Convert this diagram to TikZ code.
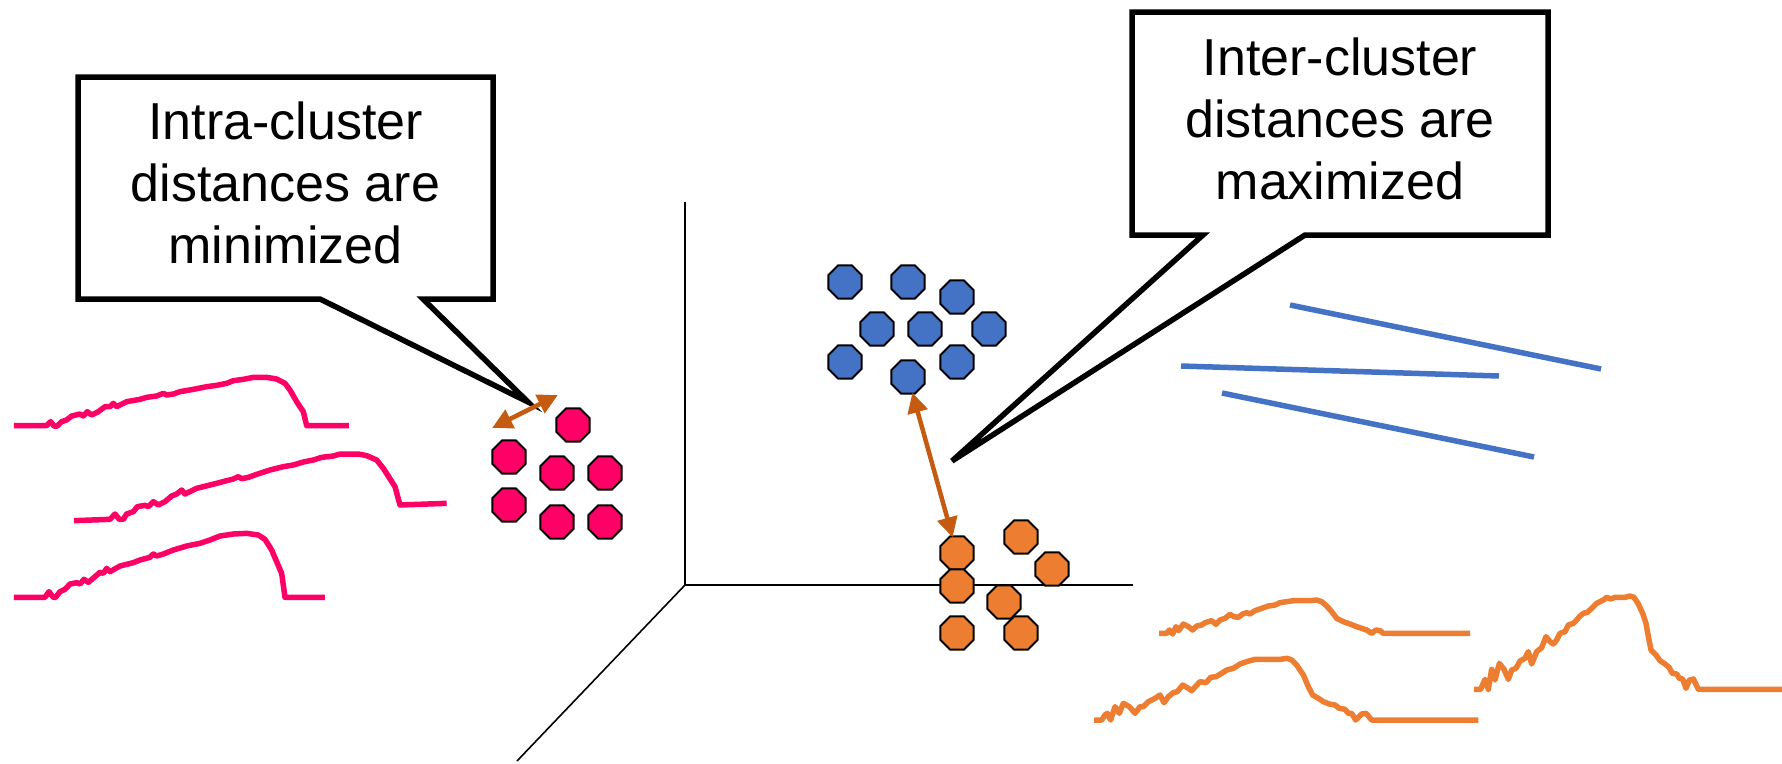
\documentclass[tikz,border=0pt]{standalone}
\usepackage{fontspec}
\setmainfont{Liberation Sans}
\usetikzlibrary{shapes.geometric,arrows.meta}
\definecolor{pinkc}{HTML}{FF0066}
\definecolor{bluec}{HTML}{4472C4}
\definecolor{orangec}{HTML}{ED7D31}
\definecolor{arrowc}{HTML}{C55A11}
\tikzset{
  oct/.style={regular polygon, regular polygon sides=8, minimum size=36pt, inner sep=0pt, draw=black, line width=2pt},
  callout/.style={draw=black, line width=5.5pt, fill=white, line join=miter},
  calltext/.style={align=center, inner sep=0pt, font=\fontsize{52}{62}\selectfont},
  axis/.style={draw=black, line width=1.6pt},
  wave/.style={line width=5.5pt, line join=round, line cap=butt},
  bline/.style={draw=bluec, line width=5.5pt},
  dist/.style={draw=arrowc, line width=4.5pt, {Triangle[length=20pt,width=20pt]}-{Triangle[length=20pt,width=20pt]}, shorten <=-2pt, shorten >=-2pt},
}
\begin{document}
\begin{tikzpicture}[x=1pt,y=-1pt]
\useasboundingbox (0,0) rectangle (1782,763);
% axes
\coordinate (origin) at (685,585);
\coordinate (ytop) at (685,202);
\coordinate (xend) at (1133,585);
\coordinate (zend) at (517,761);
\draw[axis] (ytop) -- (origin) -- (xend);
\draw[axis] (origin) -- (zend);

% callouts
\draw[callout] (78,77) -- (493,77) -- (493,299) -- (423,299) -- (528,402) -- (320,299) -- (78,299) -- cycle;
\node[calltext] (intra) at (285.5,183) {Intra-cluster\\distances are\\minimized};
\draw[callout] (1132,12) -- (1548,12) -- (1548,235) -- (1305,235) -- (952,461) -- (1203,235) -- (1132,235) -- cycle;
\node[calltext] (inter) at (1340,119) {Inter-cluster\\distances are\\maximized};

% pink cluster
\node[oct, fill=pinkc] (p1) at (573,425) {};
\node[oct, fill=pinkc] (p2) at (509,457) {};
\node[oct, fill=pinkc] (p3) at (557,473) {};
\node[oct, fill=pinkc] (p4) at (605,473) {};
\node[oct, fill=pinkc] (p5) at (509,505) {};
\node[oct, fill=pinkc] (p6) at (557,522) {};
\node[oct, fill=pinkc] (p7) at (605,522) {};

% blue cluster
\node[oct, fill=bluec] (b1) at (845,282) {};
\node[oct, fill=bluec] (b2) at (908,282) {};
\node[oct, fill=bluec] (b3) at (957,297) {};
\node[oct, fill=bluec] (b4) at (877,329) {};
\node[oct, fill=bluec] (b5) at (925,329) {};
\node[oct, fill=bluec] (b6) at (989,329) {};
\node[oct, fill=bluec] (b7) at (845,362) {};
\node[oct, fill=bluec] (b8) at (957,362) {};
\node[oct, fill=bluec] (b9) at (908,377) {};

% orange cluster
\node[oct, fill=orangec] (o1) at (957,553) {};
\node[oct, fill=orangec] (o2) at (1021,537) {};
\node[oct, fill=orangec] (o3) at (1052,569) {};
\node[oct, fill=orangec] (o4) at (957,586) {};
\node[oct, fill=orangec] (o5) at (1004,602) {};
\node[oct, fill=orangec] (o6) at (957,633) {};
\node[oct, fill=orangec] (o7) at (1021,633) {};

% distance arrows
\coordinate (ia) at (494,427);
\coordinate (ib) at (556,396);
\draw[dist] (ia) -- (ib);
\draw[dist] (b9) -- (o1);

% blue lines
\draw[bline] (1290,305) -- (1601,369);
\draw[bline] (1181,366) -- (1499,376);
\draw[bline] (1222,393) -- (1534,457);

% pink waves
\begin{scope}[shift={(0,360)}, scale=0.3333333]
\draw[wave, pinkc] plot coordinates {(42,197) (140,197) (152,185) (162,198) (172,198) (185,185) (200,180) (215,168) (240,162) (250,168) (262,155) (275,165) (295,155) (315,140) (330,140) (340,130) (350,140) (380,125) (420,118) (440,112) (470,108) (490,100) (500,105) (520,102) (540,95) (580,88) (620,80) (650,76) (680,70) (700,62) (730,58) (760,52) (800,52) (830,57) (855,70) (870,90) (890,125) (910,155) (920,197) (1047,197)};
\draw[wave, pinkc] plot coordinates {(222,482) (330,478) (345,462) (358,478) (370,478) (380,462) (400,455) (412,440) (435,436) (445,440) (460,425) (475,435) (495,425) (515,408) (530,402) (545,390) (555,402) (590,385) (630,375) (650,370) (680,362) (700,357) (715,350) (725,356) (745,352) (770,343) (810,330) (850,320) (880,315) (910,306) (940,300) (965,292) (1000,288) (1020,282) (1075,282) (1100,287) (1130,300) (1150,325) (1185,380) (1200,435) (1340,430)};
\draw[wave, pinkc] plot coordinates {(42,712) (135,712) (147,695) (160,712) (167,712) (180,695) (195,688) (210,672) (230,668) (240,672) (252,658) (265,667) (285,650) (300,637) (310,640) (320,625) (330,635) (360,618) (400,608) (420,600) (450,592) (460,582) (470,588) (490,582) (520,570) (560,558) (600,550) (630,540) (660,528) (700,522) (740,520) (775,525) (795,538) (815,570) (845,640) (855,712) (975,712)};
\end{scope}

% orange waves
\begin{scope}[shift={(1090,580)}, scale=0.3333333]
\draw[wave, orangec] plot coordinates {(207,160) (230,160) (238,150) (248,162) (258,140) (266,152) (280,132) (295,140) (308,150) (320,138) (335,135) (345,128) (365,122) (378,133) (390,120) (405,115) (420,103) (432,110) (445,112) (458,102) (470,98) (480,102) (495,92) (515,85) (535,78) (555,75) (570,68) (590,65) (610,62) (660,62) (680,60) (695,65) (710,78) (725,95) (740,115) (760,125) (780,132) (800,140) (815,145) (830,150) (845,160) (858,150) (870,152) (880,160) (1140,160)};
\draw[wave, orangec] plot coordinates {(12,420) (35,420) (45,405) (52,400) (62,420) (75,380) (88,400) (100,370) (118,380) (135,400) (150,380) (160,380) (175,365) (195,355) (210,345) (222,368) (235,350) (250,338) (262,335) (278,315) (295,325) (305,332) (318,318) (330,305) (348,308) (362,292) (378,290) (395,280) (410,270) (430,265) (450,252) (470,245) (495,238) (520,238) (570,238) (592,235) (605,240) (620,255) (640,285) (655,320) (668,345) (685,355) (700,365) (718,372) (735,375) (748,385) (765,388) (775,400) (785,400) (797,420) (815,402) (828,400) (845,420) (1165,420)};
\end{scope}
\begin{scope}[shift={(1440,580)}, scale=0.3333333]
\draw[wave, orangec] plot coordinates {(102,328) (122,328) (135,298) (145,328) (155,268) (165,300) (178,250) (192,268) (205,298) (215,270) (228,265) (240,243) (255,235) (265,215) (275,252) (290,215) (305,203) (318,170) (330,185) (340,192) (350,180) (360,160) (375,155) (385,135) (400,130) (410,120) (420,108) (430,100) (442,97) (455,85) (470,70) (490,60) (500,52) (512,57) (525,52) (555,52) (570,48) (582,52) (595,72) (608,100) (618,130) (625,170) (633,210) (648,225) (660,242) (675,252) (687,262) (697,280) (710,282) (718,295) (728,297) (738,325) (748,300) (760,297) (775,328) (1026,328)};
\end{scope}
\end{tikzpicture}
\end{document}
